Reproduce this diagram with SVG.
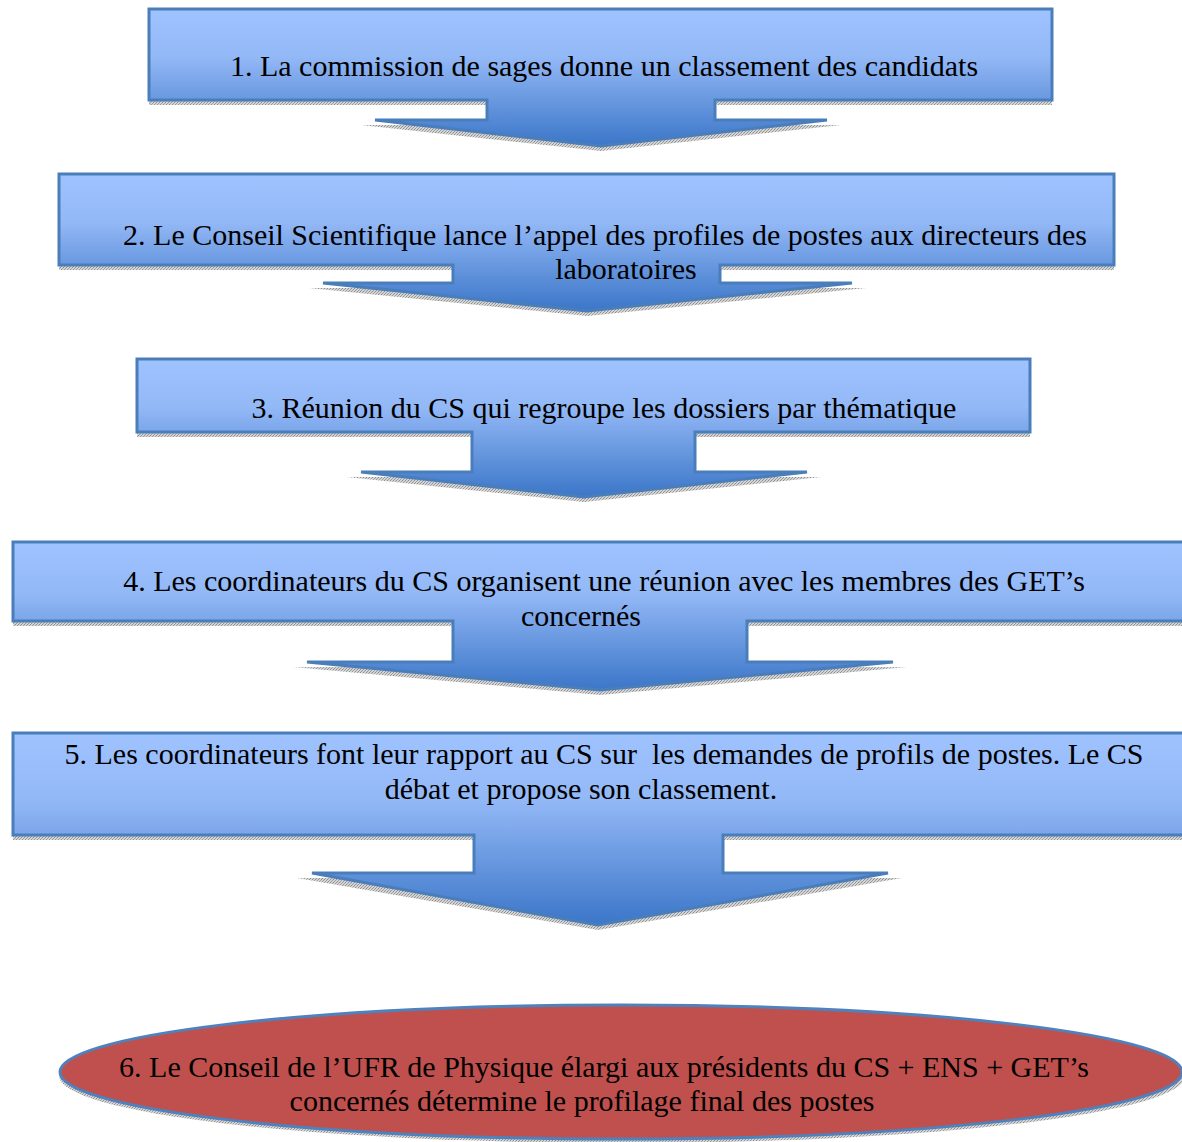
<svg xmlns="http://www.w3.org/2000/svg" width="1182" height="1142" viewBox="0 0 1182 1142">
<defs>
  <linearGradient id="blueGrad" x1="0" y1="0" x2="0" y2="1">
    <stop offset="0" stop-color="#9EC3FF"/>
    <stop offset="0.35" stop-color="#93B8F6"/>
    <stop offset="1" stop-color="#3B76C8"/>
  </linearGradient>
  <pattern id="shadowTex" width="3" height="3" patternUnits="userSpaceOnUse">
    <rect width="3" height="3" fill="#d4d4d4"/>
    <rect x="0" y="0" width="1" height="1" fill="#8c8c8c"/>
    <rect x="2" y="1" width="1" height="1" fill="#a0a0a0"/>
    <rect x="1" y="2" width="1" height="1" fill="#989898"/>
  </pattern>
</defs>
<style>
  .shape { fill: url(#blueGrad); stroke: #4A7EBB; stroke-width: 3; stroke-linejoin: miter; }
  .shadow { fill: url(#shadowTex); stroke: none; }
  .oval { fill: #C0504D; stroke: #4F81BD; stroke-width: 3; }
  .label { font-family: "Liberation Serif", "Times New Roman", serif; font-size: 30px; fill: #000; text-anchor: middle; white-space: pre; }
</style>
<rect width="1182" height="1142" fill="#ffffff"/>

<g id="connectors"></g>

<g id="node1">
  <path class="shadow" d="M149,14 H1052 V105 H715 V125 H841 L601,151 L361,125 H487 V105 H149 Z"/>
  <path class="shape" d="M149,9 H1052 V100 H715 V120 H827 L601,146 L375,120 H487 V100 H149 Z"/>
  <text class="label" x="604" y="76">1. La commission de sages donne un classement des candidats</text>
</g>

<g id="node2">
  <path class="shadow" d="M59,179 H1114 V270 H720 V288 H866 L587,316 L309,288 H453 V270 H59 Z"/>
  <path class="shape" d="M59,174 H1114 V265 H720 V283 H852 L587,311 L323,283 H453 V265 H59 Z"/>
  <text class="label" x="605" y="245">2. Le Conseil Scientifique lance l’appel des profiles de postes aux directeurs des</text>
  <text class="label" x="626" y="279">laboratoires</text>
</g>

<g id="node3">
  <path class="shadow" d="M137,364 H1030 V437 H695 V477 H821 L584,502 L347,477 H472 V437 H137 Z"/>
  <path class="shape" d="M137,359 H1030 V432 H695 V472 H807 L584,497 L361,472 H472 V432 H137 Z"/>
  <text class="label" x="604" y="418">3. Réunion du CS qui regroupe les dossiers par thématique</text>
</g>

<g id="node4">
  <path class="shadow" d="M13,547 H1187 V626 H747 V667 H907 L600,695 L293,667 H453 V626 H13 Z"/>
  <path class="shape" d="M13,542 H1187 V621 H747 V662 H893 L600,690 L307,662 H453 V621 H13 Z"/>
  <text class="label" x="604" y="591">4. Les coordinateurs du CS organisent une réunion avec les membres des GET’s</text>
  <text class="label" x="581" y="626">concernés</text>
</g>

<g id="node5">
  <path class="shadow" d="M13,738 H1187 V840 H723 V878 H902 L598,930 L297,878 H474 V840 H13 Z"/>
  <path class="shape" d="M13,733 H1187 V835 H723 V873 H888 L598,925 L312,873 H474 V835 H13 Z"/>
  <text class="label" x="604" y="764">5. Les coordinateurs font leur rapport au CS sur  les demandes de profils de postes. Le CS</text>
  <text class="label" x="581" y="799">débat et propose son classement.</text>
</g>

<g id="node6">
  <ellipse class="shadow" cx="622" cy="1076" rx="563" ry="67"/>
  <ellipse class="oval" cx="621" cy="1072" rx="561" ry="67"/>
  <text class="label" x="604" y="1077">6. Le Conseil de l’UFR de Physique élargi aux présidents du CS + ENS + GET’s</text>
  <text class="label" x="582" y="1111">concernés détermine le profilage final des postes</text>
</g>
</svg>
